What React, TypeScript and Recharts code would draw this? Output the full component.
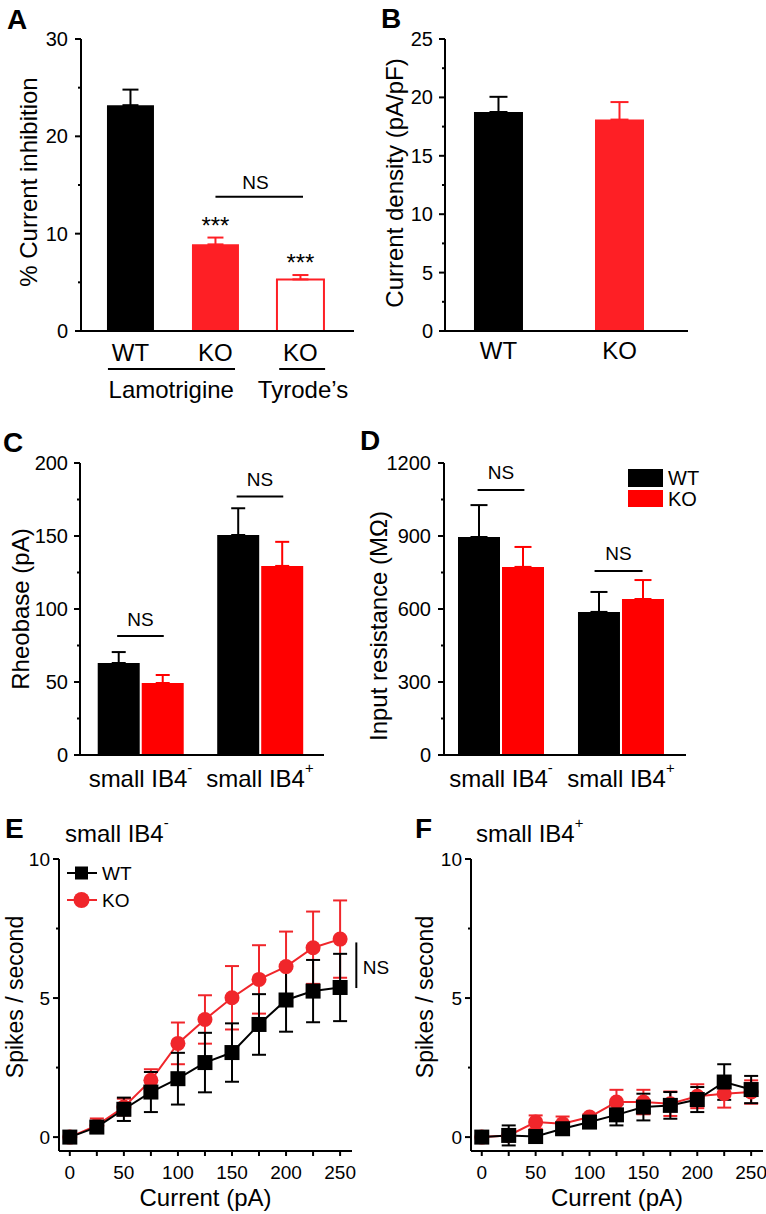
import React from 'react';
import {
  BarChart,
  Bar,
  Cell,
  LineChart,
  Line,
  XAxis,
  YAxis,
  ErrorBar,
  ReferenceLine,
  ReferenceDot,
  Legend,
} from 'recharts';

const FONT = '"Liberation Sans", Arial, Helvetica, sans-serif';
const BLACK = '#000000';
const RED_AB = '#fe1f25';
const RED_CD = '#ff0000';
const RED_EF = '#f0262b';
const AXIS = { stroke: BLACK, strokeWidth: 2 };

// A - % current inhibition
const inhibitionLabels = ['WT', 'KO', 'KO'];
const inhibitionMean = [23.2, 8.9, 5.3];
const inhibitionSem = [1.6, 0.7, 0.45];
const inhibitionTicks = [0, 5, 10, 15, 20, 25, 30];
const inhibitionGroups = ['Lamotrigine', 'Tyrode’s'];

// B - current density
const densityLabels = ['WT', 'KO'];
const densityMean = [18.75, 18.1];
const densitySem = [1.3, 1.5];
const densityTicks = [0, 2.5, 5, 7.5, 10, 12.5, 15, 17.5, 20, 22.5, 25];

// C / D - rheobase and input resistance
const cellTypes = ['small IB4-', 'small IB4+'];
const genotypes = ['WT', 'KO'];
const rheobaseWT = [63, 150.7];
const rheobaseWTSem = [7.5, 18.3];
const rheobaseKO = [49.3, 129.5];
const rheobaseKOSem = [5.5, 16.5];
const rheobaseTicks = [0, 25, 50, 75, 100, 125, 150, 175, 200];
const resistanceWT = [896, 588];
const resistanceWTSem = [131, 82];
const resistanceKO = [773, 641];
const resistanceKOSem = [82, 78];
const resistanceTicks = [0, 150, 300, 450, 600, 750, 900, 1050, 1200];

// E / F - spikes vs current
const currentSteps = [0, 25, 50, 75, 100, 125, 150, 175, 200, 225, 250];
const spikeTicks = [0, 2.5, 5, 7.5, 10];
const ib4NegWT = [0, 0.36, 1.0, 1.62, 2.1, 2.68, 3.04, 4.05, 4.93, 5.25, 5.38];
const ib4NegWTSem = [0, 0.2, 0.42, 0.72, 0.93, 1.07, 1.05, 1.09, 1.14, 1.12, 1.21];
const ib4NegKO = [0, 0.42, 1.08, 2.04, 3.37, 4.23, 5.01, 5.67, 6.13, 6.81, 7.12];
const ib4NegKOSem = [0, 0.25, 0.3, 0.4, 0.75, 0.87, 1.14, 1.23, 1.26, 1.3, 1.39];
const ib4PosWT = [0, 0.06, 0.02, 0.3, 0.54, 0.8, 1.08, 1.14, 1.35, 1.98, 1.71];
const ib4PosWTSem = [0, 0.36, 0.1, 0.2, 0.15, 0.38, 0.48, 0.48, 0.45, 0.64, 0.49];
const ib4PosKO = [0, 0.06, 0.54, 0.48, 0.72, 1.26, 1.26, 1.2, 1.47, 1.56, 1.62];
const ib4PosKOSem = [0, 0.1, 0.24, 0.26, 0.1, 0.44, 0.44, 0.44, 0.43, 0.5, 0.42];

const panelLetters = [
  { t: 'A', x: 7, y: 19 },
  { t: 'B', x: 381, y: 18 },
  { t: 'C', x: 3, y: 442 },
  { t: 'D', x: 360, y: 440 },
  { t: 'E', x: 5, y: 828 },
  { t: 'F', x: 415, y: 828 },
];

type AnyProps = Record<string, any>;

function Sup({ label, fontPx }: AnyProps) {
  const m = /^(.*IB4)([+-])$/.exec(label);
  if (!m) return <>{label}</>;
  return (
    <>
      {m[1]}
      <tspan fontSize={fontPx * 0.62} dy={-fontPx * 0.4}>
        {m[2]}
      </tspan>
    </>
  );
}

function YTick(props: AnyProps) {
  const { x, y, payload, majorStep, labelGap, fontPx } = props;
  const v = payload.value;
  const r = v / majorStep;
  const major = Math.abs(r - Math.round(r)) < 1e-6;
  return (
    <g>
      <line x1={x - (major ? 6 : 3)} y1={y} x2={x} y2={y} stroke={BLACK} strokeWidth={2} />
      {major && (
        <text x={x - labelGap} y={y} textAnchor="end" dominantBaseline="central" fontSize={fontPx} fontFamily={FONT} fill={BLACK}>
          {v}
        </text>
      )}
    </g>
  );
}

function XTick(props: AnyProps) {
  const { x, y, payload, labelStep, fontPx } = props;
  const v = payload.value;
  return (
    <g>
      <line x1={x} y1={y} x2={x} y2={y + 5} stroke={BLACK} strokeWidth={2} />
      {v % labelStep === 0 && (
        <text x={x} y={y + 21} textAnchor="middle" dominantBaseline="central" fontSize={fontPx} fontFamily={FONT} fill={BLACK}>
          {v}
        </text>
      )}
    </g>
  );
}

function CatTick(props: AnyProps) {
  const { x, y, payload, names, offsetY, fontPx } = props;
  const label = names[Math.round(payload.value) - 1];
  if (!label) return null;
  return (
    <text x={x} y={y + offsetY} textAnchor="middle" dominantBaseline="central" fontSize={fontPx} fontFamily={FONT} fill={BLACK}>
      <Sup label={label} fontPx={fontPx} />
    </text>
  );
}

function AxisTitle(props: AnyProps) {
  const { viewBox, caption, vertical, shiftX = 0, shiftY = 0, fontPx = 24 } = props;
  if (!viewBox) return null;
  if (vertical) {
    const cx = viewBox.x + shiftX;
    const cy = viewBox.y + viewBox.height / 2 + shiftY;
    return (
      <text x={cx} y={cy} transform={`rotate(-90 ${cx} ${cy})`} textAnchor="middle" dominantBaseline="central" fontSize={fontPx} fontFamily={FONT} fill={BLACK}>
        {caption}
      </text>
    );
  }
  const cx = viewBox.x + viewBox.width / 2 + shiftX;
  const cy = viewBox.y + shiftY;
  return (
    <text x={cx} y={cy} textAnchor="middle" dominantBaseline="central" fontSize={fontPx} fontFamily={FONT} fill={BLACK}>
      {caption}
    </text>
  );
}

function Note(props: AnyProps) {
  const { viewBox, caption, fontPx = 19, shiftY = 0, anchor = 'middle' } = props;
  if (!viewBox) return null;
  const cx = viewBox.x + (viewBox.width || 0) / 2;
  const cy = viewBox.y + (viewBox.height || 0) / 2 + shiftY;
  return (
    <text x={cx} y={cy} textAnchor={anchor} dominantBaseline="central" fontSize={fontPx} fontFamily={FONT} fill={BLACK}>
      {caption}
    </text>
  );
}

function SquareDot(props: AnyProps) {
  const { cx, cy } = props;
  if (cx == null || cy == null) return null;
  return <rect x={cx - 7.5} y={cy - 7.5} width={15} height={15} fill={BLACK} />;
}

const segLine = (x1: number, x2: number, y: number, key: string) => (
  <ReferenceLine
    key={key}
    segment={[{ x: x1, y }, { x: x2, y }]}
    stroke={BLACK}
    strokeWidth={2}
    ifOverflow="visible"
  />
);

const note = (x: number, y: number, caption: string, key: string, extra: AnyProps = {}) => (
  <ReferenceDot
    key={key}
    x={x}
    y={y}
    r={0}
    ifOverflow="visible"
    fill="none"
    stroke="none"
    label={<Note caption={caption} {...extra} />}
  />
);

function BarLegend() {
  return (
    <svg width={80} height={45} style={{ overflow: 'visible' }}>
      <rect x={2} y={2} width={35} height={18} fill={BLACK} />
      <rect x={2} y={23} width={35} height={17} fill={RED_CD} />
      <text x={42} y={11} dominantBaseline="central" fontSize={20} fontFamily={FONT} fill={BLACK}>
        {genotypes[0]}
      </text>
      <text x={42} y={31.5} dominantBaseline="central" fontSize={20} fontFamily={FONT} fill={BLACK}>
        {genotypes[1]}
      </text>
    </svg>
  );
}

function LineLegend() {
  return (
    <svg width={80} height={56} style={{ overflow: 'visible' }}>
      <line x1={7} y1={15} x2={37} y2={15} stroke={BLACK} strokeWidth={2} />
      <rect x={15} y={8.5} width={13} height={13} fill={BLACK} />
      <line x1={7} y1={42} x2={37} y2={42} stroke={RED_EF} strokeWidth={2} />
      <circle cx={21.5} cy={42} r={8} fill={RED_EF} />
      <text x={42} y={15} dominantBaseline="central" fontSize={19} fontFamily={FONT} fill={BLACK}>
        {genotypes[0]}
      </text>
      <text x={42} y={42} dominantBaseline="central" fontSize={19} fontFamily={FONT} fill={BLACK}>
        {genotypes[1]}
      </text>
    </svg>
  );
}

const yAxisCommon = {
  type: 'number' as const,
  allowDataOverflow: true,
  interval: 0 as const,
  tickSize: 0,
  tickMargin: 0,
  tickLine: false,
  axisLine: AXIS,
};

function SpikeChart({ rows, width, yWidth, marginRight, titleX, showLegend, showNS }: AnyProps) {
  return (
    <LineChart width={width} height={394} data={rows} margin={{ top: 39, right: marginRight, bottom: 0, left: 0 }}>
      <XAxis
        dataKey="current"
        type="number"
        domain={[-10, 261]}
        allowDataOverflow
        ticks={currentSteps}
        interval={0}
        tickSize={0}
        tickMargin={0}
        tickLine={false}
        axisLine={AXIS}
        height={63}
        tick={<XTick labelStep={50} fontPx={19} />}
        label={<AxisTitle caption="Current (pA)" shiftY={46} fontPx={24} />}
      />
      <YAxis
        {...yAxisCommon}
        domain={[-0.5, 10]}
        ticks={spikeTicks}
        width={yWidth}
        tick={<YTick majorStep={5} labelGap={9} fontPx={19} />}
        label={<AxisTitle caption="Spikes / second" vertical shiftX={titleX} shiftY={-8} fontPx={23} />}
      />
      {showLegend && (
        <Legend
          layout="vertical"
          align="center"
          verticalAlign="middle"
          wrapperStyle={{ left: 60, top: 38, width: 80, height: 56 }}
          content={() => <LineLegend />}
        />
      )}
      <Line
        dataKey="ko"
        name={genotypes[1]}
        stroke={RED_EF}
        strokeWidth={2}
        dot={{ r: 7.5, fill: RED_EF, stroke: RED_EF, strokeWidth: 0 }}
        activeDot={false}
        isAnimationActive={false}
      >
        <ErrorBar dataKey="koErr" direction="y" width={7} strokeWidth={2} stroke={RED_EF} />
      </Line>
      <Line
        dataKey="wt"
        name={genotypes[0]}
        stroke={BLACK}
        strokeWidth={2}
        dot={<SquareDot />}
        activeDot={false}
        isAnimationActive={false}
      >
        <ErrorBar dataKey="wtErr" direction="y" width={7} strokeWidth={2} stroke={BLACK} />
      </Line>
      {showNS && (
        <ReferenceLine
          segment={[{ x: 265, y: 5.36 }, { x: 265, y: 7.0 }]}
          stroke={BLACK}
          strokeWidth={2}
          ifOverflow="visible"
        />
      )}
      {showNS && note(271, 6.1, 'NS', 'nsE', { anchor: 'start' })}
    </LineChart>
  );
}

export default function App() {
  const rowsA = inhibitionLabels.map((_, i) => ({
    pos: i + 1,
    mean: inhibitionMean[i],
    semBlack: i === 0 ? [0, inhibitionSem[i]] : undefined,
    semRed: i === 0 ? undefined : [0, inhibitionSem[i]],
  }));
  const styleA = [
    { fill: BLACK },
    { fill: RED_AB },
    { fill: '#ffffff', stroke: RED_AB, strokeWidth: 2 },
  ];

  const rowsB = densityLabels.map((_, i) => ({
    pos: i + 1,
    mean: densityMean[i],
    semBlack: i === 0 ? [0, densitySem[i]] : undefined,
    semRed: i === 0 ? undefined : [0, densitySem[i]],
  }));

  const rowsC = cellTypes.map((_, i) => ({
    pos: i + 1,
    wt: rheobaseWT[i],
    wtErr: [0, rheobaseWTSem[i]],
    ko: rheobaseKO[i],
    koErr: [0, rheobaseKOSem[i]],
  }));

  const rowsD = cellTypes.map((_, i) => ({
    pos: i + 1,
    wt: resistanceWT[i],
    wtErr: [0, resistanceWTSem[i]],
    ko: resistanceKO[i],
    koErr: [0, resistanceKOSem[i]],
  }));

  const rowsE = currentSteps.map((c, i) => ({
    current: c,
    wt: ib4NegWT[i],
    wtErr: ib4NegWTSem[i],
    ko: ib4NegKO[i],
    koErr: ib4NegKOSem[i],
  }));

  const rowsF = currentSteps.map((c, i) => ({
    current: c,
    wt: ib4PosWT[i],
    wtErr: ib4PosWTSem[i],
    ko: ib4PosKO[i],
    koErr: ib4PosKOSem[i],
  }));

  const pos = (left: number, top: number): React.CSSProperties => ({ position: 'absolute', left, top });

  return (
    <div style={{ position: 'absolute', left: 0, top: 0, width: 766, height: 1214, background: '#fff', fontFamily: FONT }}>
      <svg width={766} height={1214} style={{ position: 'absolute', left: 0, top: 0 }}>
        {panelLetters.map((p) => (
          <text key={p.t} x={p.x} y={p.y} dominantBaseline="central" fontSize={28} fontWeight="bold" fontFamily={FONT} fill={BLACK}>
            {p.t}
          </text>
        ))}
        <text x={65} y={833} dominantBaseline="central" fontSize={24} fontFamily={FONT} fill={BLACK}>
          <Sup label={cellTypes[0]} fontPx={24} />
        </text>
        <text x={476} y={833} dominantBaseline="central" fontSize={24} fontFamily={FONT} fill={BLACK}>
          <Sup label={cellTypes[1]} fontPx={24} />
        </text>
      </svg>

      {/* A */}
      <div style={pos(0, 0)}>
        <BarChart width={383} height={410} data={rowsA} margin={{ top: 39, right: 29, bottom: 0, left: 0 }}>
          <XAxis
            dataKey="pos"
            type="number"
            domain={[0.418, 3.63]}
            allowDataOverflow
            ticks={[1, 2, 3]}
            interval={0}
            tickSize={0}
            tickMargin={0}
            tickLine={false}
            axisLine={AXIS}
            height={79}
            tick={<CatTick names={inhibitionLabels} offsetY={21} fontPx={24} />}
          />
          <YAxis
            {...yAxisCommon}
            domain={[0, 30]}
            ticks={inhibitionTicks}
            width={81}
            tick={<YTick majorStep={10} labelGap={13} fontPx={20} />}
            label={<AxisTitle caption="% Current inhibition" vertical shiftX={28} shiftY={-3} />}
          />
          <Bar dataKey="mean" barSize={47} isAnimationActive={false}>
            {rowsA.map((_, i) => (
              <Cell key={`a-${i}`} {...styleA[i]} />
            ))}
            <ErrorBar dataKey="semBlack" width={8} strokeWidth={2} stroke={BLACK} />
            <ErrorBar dataKey="semRed" width={8} strokeWidth={2} stroke={RED_AB} />
          </Bar>
          {segLine(2, 3.03, 13.8, 'nsA')}
          {note(2.47, 15.3, 'NS', 'nsAt')}
          {note(2, 11.4, '***', 'starA1', { fontPx: 24, shiftY: 5 })}
          {note(3, 7.6, '***', 'starA2', { fontPx: 24, shiftY: 5 })}
          {segLine(0.735, 2.23, -3.9, 'grpA1')}
          {segLine(2.75, 3.29, -3.9, 'grpA2')}
          {note(1.48, -6.05, inhibitionGroups[0], 'grpAt1', { fontPx: 24 })}
          {note(3.03, -6.05, inhibitionGroups[1], 'grpAt2', { fontPx: 24 })}
        </BarChart>
      </div>

      {/* B */}
      <div style={pos(368, 0)}>
        <BarChart width={398} height={410} data={rowsB} margin={{ top: 39, right: 78, bottom: 0, left: 0 }}>
          <XAxis
            dataKey="pos"
            type="number"
            domain={[0.558, 2.566]}
            allowDataOverflow
            ticks={[1, 2]}
            interval={0}
            tickSize={0}
            tickMargin={0}
            tickLine={false}
            axisLine={AXIS}
            height={79}
            tick={<CatTick names={densityLabels} offsetY={19} fontPx={24} />}
          />
          <YAxis
            {...yAxisCommon}
            domain={[0, 25]}
            ticks={densityTicks}
            width={77}
            tick={<YTick majorStep={5} labelGap={12} fontPx={20} />}
            label={<AxisTitle caption="Current density (pA/pF)" vertical shiftX={26} shiftY={-2} />}
          />
          <Bar dataKey="mean" barSize={49} isAnimationActive={false}>
            {rowsB.map((_, i) => (
              <Cell key={`b-${i}`} fill={i === 0 ? BLACK : RED_AB} />
            ))}
            <ErrorBar dataKey="semBlack" width={9} strokeWidth={2} stroke={BLACK} />
            <ErrorBar dataKey="semRed" width={9} strokeWidth={2} stroke={RED_AB} />
          </Bar>
        </BarChart>
      </div>

      {/* C */}
      <div style={pos(0, 420)}>
        <BarChart width={383} height={395} data={rowsC} margin={{ top: 43, right: 59, bottom: 0, left: 0 }} barGap={2}>
          <XAxis
            dataKey="pos"
            type="number"
            domain={[0.494, 2.536]}
            allowDataOverflow
            ticks={[1, 2]}
            interval={0}
            tickSize={0}
            tickMargin={0}
            tickLine={false}
            axisLine={AXIS}
            height={60}
            tick={<CatTick names={cellTypes} offsetY={23} fontPx={24} />}
          />
          <YAxis
            {...yAxisCommon}
            domain={[0, 200]}
            ticks={rheobaseTicks}
            width={80}
            tick={<YTick majorStep={50} labelGap={12} fontPx={20} />}
            label={<AxisTitle caption="Rheobase (pA)" vertical shiftX={20} />}
          />
          <Bar dataKey="wt" name={genotypes[0]} fill={BLACK} barSize={42} isAnimationActive={false}>
            <ErrorBar dataKey="wtErr" width={7} strokeWidth={2} stroke={BLACK} />
          </Bar>
          <Bar dataKey="ko" name={genotypes[1]} fill={RED_CD} barSize={42} isAnimationActive={false}>
            <ErrorBar dataKey="koErr" width={7} strokeWidth={2} stroke={RED_CD} />
          </Bar>
          {segLine(0.805, 1.195, 81.5, 'nsC1')}
          {segLine(1.805, 2.195, 177, 'nsC2')}
          {note(1, 93, 'NS', 'nsCt1')}
          {note(2, 189, 'NS', 'nsCt2')}
        </BarChart>
      </div>

      {/* D */}
      <div style={pos(360, 420)}>
        <BarChart width={406} height={395} data={rowsD} margin={{ top: 43, right: 80, bottom: 0, left: 0 }} barGap={2}>
          <XAxis
            dataKey="pos"
            type="number"
            domain={[0.525, 2.542]}
            allowDataOverflow
            ticks={[1, 2]}
            interval={0}
            tickSize={0}
            tickMargin={0}
            tickLine={false}
            axisLine={AXIS}
            height={60}
            tick={<CatTick names={cellTypes} offsetY={23} fontPx={24} />}
          />
          <YAxis
            {...yAxisCommon}
            domain={[0, 1200]}
            ticks={resistanceTicks}
            width={84}
            tick={<YTick majorStep={300} labelGap={13} fontPx={20} />}
            label={<AxisTitle caption="Input resistance (MΩ)" vertical shiftX={18} shiftY={17} />}
          />
          <Legend
            layout="vertical"
            align="center"
            verticalAlign="middle"
            wrapperStyle={{ left: 266, top: 47, width: 80, height: 45 }}
            content={() => <BarLegend />}
          />
          <Bar dataKey="wt" name={genotypes[0]} fill={BLACK} barSize={42} isAnimationActive={false}>
            <ErrorBar dataKey="wtErr" width={8.5} strokeWidth={2} stroke={BLACK} />
          </Bar>
          <Bar dataKey="ko" name={genotypes[1]} fill={RED_CD} barSize={42} isAnimationActive={false}>
            <ErrorBar dataKey="koErr" width={8.5} strokeWidth={2} stroke={RED_CD} />
          </Bar>
          {segLine(0.805, 1.195, 1089, 'nsD1')}
          {segLine(1.78, 2.18, 756, 'nsD2')}
          {note(1, 1159, 'NS', 'nsDt1')}
          {note(1.98, 830, 'NS', 'nsDt2')}
        </BarChart>
      </div>

      {/* E */}
      <div style={pos(0, 820)}>
        <SpikeChart rows={rowsE} width={395} yWidth={59} marginRight={43} titleX={15} showLegend showNS />
      </div>

      {/* F */}
      <div style={pos(400, 820)}>
        <SpikeChart rows={rowsF} width={366} yWidth={71} marginRight={3} titleX={25} />
      </div>
    </div>
  );
}
